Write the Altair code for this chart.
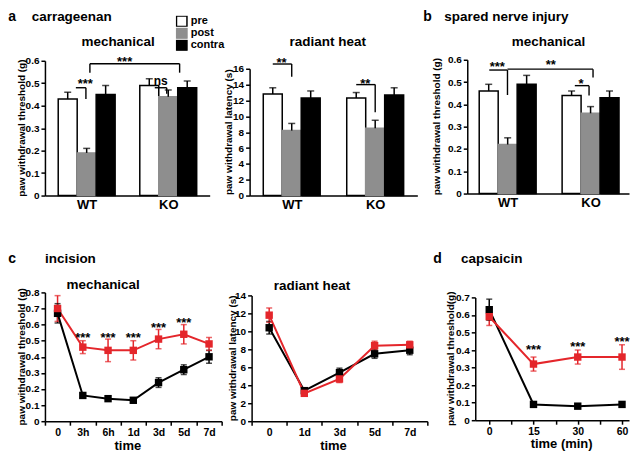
import altair as alt
import pandas as pd

FONT = "Liberation Sans"
GREY = "#8e8e8e"
RED = "#e4262b"

# ---------------- data ----------------
groups = ["WT", "KO"]
conds = ["pre", "post", "contra"]
cond_fill = ["white", GREY, "black"]
cond_stroke = ["black", GREY, "black"]

# a: carrageenan, mechanical (g)   order: WT pre/post/contra, KO pre/post/contra
a_mech_mean = [0.43, 0.19, 0.45, 0.49, 0.44, 0.48]
a_mech_sem = [0.03, 0.02, 0.04, 0.03, 0.03, 0.03]
# a: carrageenan, radiant heat (s)
a_heat_mean = [12.8, 8.2, 12.3, 12.3, 8.5, 12.7]
a_heat_sem = [0.8, 0.9, 0.9, 0.7, 1.0, 0.9]
# b: spared nerve injury, mechanical (g)
b_mech_mean = [0.46, 0.22, 0.49, 0.44, 0.36, 0.43]
b_mech_sem = [0.03, 0.03, 0.04, 0.02, 0.03, 0.03]

# significance brackets (bar units on x, data units on y)
a_mech_seg_x1 = [1.63, 2.16, 2.37, 2.37, 7.10, 5.79, 6.42]
a_mech_seg_x2 = [2.16, 2.16, 7.10, 2.37, 7.10, 6.42, 6.42]
a_mech_seg_y1 = [0.48, 0.48, 0.587, 0.587, 0.587, 0.48, 0.48]
a_mech_seg_y2 = [0.48, 0.43, 0.587, 0.547, 0.547, 0.48, 0.453]
a_mech_sig_t = ["***", "***", "ns"]
a_mech_sig_x = [2.13, 4.2, 6.1]
a_mech_sig_y = [0.511, 0.607, 0.511]

a_heat_seg_x1 = [1.22, 2.22, 5.62, 6.62]
a_heat_seg_x2 = [2.22, 2.22, 6.62, 6.62]
a_heat_seg_y1 = [16.6, 16.6, 14.0, 14.0]
a_heat_seg_y2 = [16.6, 15.0, 14.0, 10.5]
a_heat_sig_t = ["**", "**"]
a_heat_sig_x = [1.68, 6.1]
a_heat_sig_y = [17.1, 14.5]

b_mech_seg_x1 = [1.16, 2.12, 2.12, 6.63, 5.67, 6.42]
b_mech_seg_x2 = [2.12, 2.12, 6.63, 6.63, 6.42, 6.42]
b_mech_seg_y1 = [0.554, 0.554, 0.558, 0.558, 0.484, 0.484]
b_mech_seg_y2 = [0.554, 0.442, 0.558, 0.521, 0.484, 0.44]
b_mech_sig_t = ["***", "**", "*"]
b_mech_sig_x = [1.58, 4.4, 6.0]
b_mech_sig_y = [0.582, 0.588, 0.506]

# c: incision, mechanical
c_times = ["0", "3h", "6h", "1d", "3d", "5d", "7d"]
c_mech_wt = [0.67, 0.16, 0.14, 0.13, 0.24, 0.32, 0.40]
c_mech_wt_sem = [0.06, 0.015, 0.015, 0.015, 0.03, 0.03, 0.04]
c_mech_ko = [0.70, 0.46, 0.44, 0.44, 0.51, 0.54, 0.48]
c_mech_ko_sem = [0.08, 0.04, 0.07, 0.06, 0.06, 0.06, 0.04]
c_mech_star_t = ["3h", "6h", "1d", "3d", "5d"]
c_mech_star_y = [0.535, 0.535, 0.535, 0.60, 0.628]

# c: incision, radiant heat
c_heat_times = ["0", "1d", "3d", "5d", "7d"]
c_heat_wt = [10.4, 3.4, 5.4, 7.5, 7.9]
c_heat_wt_sem = [0.7, 0.3, 0.5, 0.5, 0.5]
c_heat_ko = [11.8, 3.1, 4.7, 8.4, 8.5]
c_heat_ko_sem = [0.8, 0.3, 0.4, 0.5, 0.4]

# d: capsaicin
d_times = ["0", "15", "30", "60"]
d_wt = [0.63, 0.09, 0.08, 0.09]
d_wt_sem = [0.06, 0.01, 0.01, 0.01]
d_ko = [0.59, 0.32, 0.36, 0.36]
d_ko_sem = [0.05, 0.04, 0.04, 0.07]
d_star_i = [1, 2, 3]
d_star_y = [0.42, 0.433, 0.461]

geno_scale = alt.Scale(domain=groups, range=["black", RED])


# ---------------- helpers ----------------
def txt(s, x, y, size=13.5, align="left", angle=0):
    kw = dict(align=align, baseline="middle", font=FONT, fontWeight="bold",
              fontSize=size, color="black")
    if angle:
        kw["angle"] = angle
    return alt.Chart(pd.DataFrame({"t": [s]})).mark_text(**kw).encode(
        x=alt.value(x), y=alt.value(y), text="t:N")


def yaxis(count, decimals, offset=0):
    kw = dict(title=None, tickCount=count, tickSize=4, labelPadding=2,
              labelOverlap=False, labelFlush=False, labelBound=False)
    if decimals:
        kw["format"] = ".1f"
        kw["labelExpr"] = "datum.value == 0 ? '0' : datum.label"
    else:
        kw["format"] = "d"
    if offset:
        kw["offset"] = offset
    return alt.Axis(**kw)


def bar_panel(means, sems, start, gap, width, height, xr, yr, ydom, ycount, decimals,
              seg, sig, headers, legend=None):
    unit = 19.0
    rows = []
    for gi, g in enumerate(groups):
        for ci, c in enumerate(conds):
            i = gi * 3 + ci
            rows.append({"group": g, "cond": c, "pos": start + gi * gap + ci,
                         "mean": means[i], "hi": means[i] + sems[i]})
    df = pd.DataFrame(rows)
    xs = alt.Scale(domain=[0, (xr[1] - xr[0]) / unit], range=xr, nice=False,
                   zero=False, padding=0)
    ys = alt.Scale(domain=ydom, range=yr, nice=False, padding=0)
    mid = start + gap / 2 + 1
    xax = alt.Axis(title=None, values=[start + 1, start + gap + 1],
                   labelExpr=f"datum.value < {mid} ? 'WT' : 'KO'",
                   ticks=False, tickSize=0, labelFontSize=13, labelPadding=3,
                   labelFlush=False, labelOverlap=False)
    yax = yaxis(ycount, decimals)
    bars = alt.Chart(df).mark_bar(size=19, strokeWidth=1.5).encode(
        x=alt.X("pos:Q", scale=xs, axis=xax),
        y=alt.Y("mean:Q", scale=ys, axis=yax),
        fill=alt.Fill("cond:N", scale=alt.Scale(domain=conds, range=cond_fill),
                      legend=legend),
        stroke=alt.Stroke("cond:N", scale=alt.Scale(domain=conds, range=cond_stroke),
                          legend=None),
    )
    err = alt.Chart(df).mark_rule(color="black", strokeWidth=1.5).encode(
        x=alt.X("pos:Q", scale=xs, axis=xax),
        y=alt.Y("mean:Q", scale=ys, axis=yax), y2="hi:Q")
    caps = alt.Chart(df).mark_tick(color="black", thickness=1.5, size=7,
                                   orient="horizontal").encode(
        x=alt.X("pos:Q", scale=xs, axis=xax),
        y=alt.Y("hi:Q", scale=ys, axis=yax))
    sdf = pd.DataFrame({"x1": seg[0], "x2": seg[1], "y1": seg[2], "y2": seg[3]})
    br = alt.Chart(sdf).mark_rule(color="black", strokeWidth=1.4).encode(
        x=alt.X("x1:Q", scale=xs, axis=xax), x2="x2:Q",
        y=alt.Y("y1:Q", scale=ys, axis=yax), y2="y2:Q")
    tdf = pd.DataFrame({"t": sig[0], "x": sig[1], "y": sig[2]})
    stars = alt.Chart(tdf[tdf.t != "ns"]).mark_text(
        font=FONT, fontWeight="bold", fontSize=13, baseline="middle", dy=3,
        color="black").encode(
        x=alt.X("x:Q", scale=xs, axis=xax), y=alt.Y("y:Q", scale=ys, axis=yax),
        text="t:N")
    layers = [bars, err, caps, br, stars]
    if (tdf.t == "ns").any():
        ns = alt.Chart(tdf[tdf.t == "ns"]).mark_text(
            font=FONT, fontWeight="bold", fontSize=12, baseline="middle",
            color="black").encode(
            x=alt.X("x:Q", scale=xs, axis=xax), y=alt.Y("y:Q", scale=ys, axis=yax),
            text="t:N")
        layers.append(ns)
    return alt.layer(*layers, *headers).properties(width=width, height=height)


def line_panel(xvals, xtype, xs, xax, wt, wt_e, ko, ko_e, ys, yax, star_x, star_y,
               width, height, headers, legend=None):
    rows = []
    for g, m, e in (("WT", wt, wt_e), ("KO", ko, ko_e)):
        for xv, mv, ev in zip(xvals, m, e):
            rows.append({"x": xv, "geno": g, "mean": mv, "lo": mv - ev, "hi": mv + ev})
    df = pd.DataFrame(rows)
    xf = f"x:{xtype}"
    err = alt.Chart(df).mark_rule(strokeWidth=1.5).encode(
        x=alt.X(xf, scale=xs, axis=xax),
        y=alt.Y("lo:Q", scale=ys, axis=yax), y2="hi:Q",
        color=alt.Color("geno:N", scale=geno_scale, legend=None))
    caps = alt.Chart(df).transform_fold(["lo", "hi"], as_=["k", "v"]).mark_tick(
        thickness=1.5, size=6, orient="horizontal").encode(
        x=alt.X(xf, scale=xs, axis=xax),
        y=alt.Y("v:Q", scale=ys, axis=yax),
        color=alt.Color("geno:N", scale=geno_scale, legend=None))
    line = alt.Chart(df).mark_line(strokeWidth=2).encode(
        x=alt.X(xf, scale=xs, axis=xax),
        y=alt.Y("mean:Q", scale=ys, axis=yax),
        color=alt.Color("geno:N", scale=geno_scale, legend=None))
    pts = alt.Chart(df).mark_point(shape="square", filled=True, size=55, opacity=1).encode(
        x=alt.X(xf, scale=xs, axis=xax),
        y=alt.Y("mean:Q", scale=ys, axis=yax),
        fill=alt.Fill("geno:N", scale=geno_scale, legend=legend))
    layers = [err, caps, line, pts]
    if star_x:
        sdf = pd.DataFrame({"x": star_x, "y": star_y, "t": ["***"] * len(star_x)})
        stars = alt.Chart(sdf).mark_text(font=FONT, fontWeight="bold", fontSize=13,
                                         baseline="middle", dy=3, color="black").encode(
            x=alt.X(xf, scale=xs, axis=xax), y=alt.Y("y:Q", scale=ys, axis=yax),
            text="t:N")
        layers.append(stars)
    return alt.layer(*layers, *headers).properties(width=width, height=height)


# ---------------- panels ----------------
leg_a = alt.Legend(orient="none", legendX=131, legendY=-45, title=None,
                   symbolType="square", symbolSize=110, symbolStrokeColor="black",
                   symbolStrokeWidth=1.5, labelFont=FONT, labelFontSize=11,
                   labelFontWeight="bold", labelColor="black", labelOffset=3,
                   rowPadding=0, clipHeight=11, padding=0)

A1 = bar_panel(a_mech_mean, a_mech_sem, 1.2, 4.3, 177, 135, [0, 165], [135, 0],
               [0, 0.6], 6, True,
               (a_mech_seg_x1, a_mech_seg_x2, a_mech_seg_y1, a_mech_seg_y2),
               (a_mech_sig_t, a_mech_sig_x, a_mech_sig_y),
               [txt("a", -36.7, -43.5, 14), txt("carrageenan", -13.3, -43.5),
                txt("mechanical", 73.3, -19, align="center"),
                txt("paw withdrawal threshold (g)", -23, 67.5, 10, "center", 270)],
               legend=leg_a)

A2 = bar_panel(a_heat_mean, a_heat_sem, 1.22, 4.4, 190, 135, [0, 168], [135, 8],
               [0, 16], 8, False,
               (a_heat_seg_x1, a_heat_seg_x2, a_heat_seg_y1, a_heat_seg_y2),
               (a_heat_sig_t, a_heat_sig_x, a_heat_sig_y),
               [txt("radiant heat", 78.3, -19, align="center"),
                txt("paw withdrawal latency (s)", -21, 71.5, 10, "center", 270)])

B = bar_panel(b_mech_mean, b_mech_sem, 1.13, 4.37, 162, 133, [0, 162], [133, -1],
              [0, 0.6], 6, True,
              (b_mech_seg_x1, b_mech_seg_x2, b_mech_seg_y1, b_mech_seg_y2),
              (b_mech_sig_t, b_mech_sig_x, b_mech_sig_y),
              [txt("b", -44, -43.5, 14), txt("spared nerve injury", -23, -43.5),
               txt("mechanical", 81.3, -19, align="center"),
               txt("paw withdrawal threshold (g)", -30, 66, 10, "center", 270)])

leg_c = alt.Legend(orient="none", legendX=140, legendY=-15.5, title=None,
                   symbolType="square", symbolSize=140, labelFont=FONT,
                   labelFontSize=11.5, labelFontWeight="bold", labelColor="black",
                   labelOffset=3, rowPadding=5, padding=0)

C1 = line_panel(
    c_times, "O",
    alt.Scale(type="band", domain=c_times, range=[0, 177], paddingInner=0, paddingOuter=0),
    alt.Axis(title=None, tickBand="extent", tickSize=4, labelAngle=0, labelFontSize=10.5,
             labelPadding=2),
    c_mech_wt, c_mech_wt_sem, c_mech_ko, c_mech_ko_sem,
    alt.Scale(domain=[0, 0.8], range=[129, 0], nice=False, padding=0),
    yaxis(8, True),
    c_mech_star_t, c_mech_star_y, 177, 129,
    [txt("c", -36.7, -33.5, 14), txt("incision", 0, -33.5),
     txt("mechanical", 58.3, -7, align="center"),
     txt("paw withdrawal threshold (g)", -23.3, 64.5, 10, "center", 270),
     txt("time", 83, 153.5, 13, "center")],
    legend=leg_c)

C2 = line_panel(
    c_heat_times, "O",
    alt.Scale(type="band", domain=c_heat_times, range=[2, 178], paddingInner=0, paddingOuter=0),
    alt.Axis(title=None, tickBand="extent", tickSize=4, labelAngle=0, labelFontSize=10.5,
             labelPadding=2),
    c_heat_wt, c_heat_wt_sem, c_heat_ko, c_heat_ko_sem,
    alt.Scale(domain=[0, 14], range=[129, 3], nice=False, padding=0),
    yaxis(7, False, offset=-2),
    [], [], 190, 129,
    [txt("radiant heat", 62.5, -6.5, align="center"),
     txt("paw withdrawal latency (s)", -17, 66, 10, "center", 270),
     txt("time", 84, 153.5, 13, "center")])

d_label_arr = "[" + ",".join(f"'{t}'" for t in d_times) + "]"
D = line_panel(
    list(range(len(d_times))), "Q",
    alt.Scale(domain=[-0.316, 3.158], range=[8, 162], nice=False, zero=False, padding=0),
    alt.Axis(title=None, values=[0, 0.5, 1, 1.5, 2, 2.5, 3], tickSize=4,
             labelExpr=f"datum.value % 1 == 0 ? {d_label_arr}[datum.value] : ''",
             labelFlush=False, labelOverlap=False, labelFontSize=10.5, labelPadding=2),
    d_wt, d_wt_sem, d_ko, d_ko_sem,
    alt.Scale(domain=[0, 0.7], range=[128, 5], nice=False, padding=0),
    yaxis(7, True, offset=-8),
    d_star_i, d_star_y, 162, 128,
    [txt("d", -34, -33.5, 14), txt("capsaicin", -6.3, -33.5),
     txt("paw withdrawal threshold(g)", -16, 66.5, 10, "center", 270),
     txt("time (min)", 94.5, 152, 13, "center")])

chart = alt.concat(
    A1, A2, B, C1, C2, D, columns=3,
    spacing={"row": 97, "column": 28}, bounds="flush", align="each"
).resolve_scale(
    fill="independent", stroke="independent", color="independent"
).properties(
    padding={"left": 0, "top": 1.5, "right": 4, "bottom": 4}, background="white"
).configure_view(stroke=None).configure_axis(
    domainColor="black", domainWidth=1.5, tickColor="black", tickWidth=1.5,
    grid=False, labelFont=FONT, labelFontWeight="bold", labelColor="black",
    labelFontSize=10, titleFont=FONT, titleFontWeight="bold", titleColor="black",
    titleFontSize=10, labelOverlap=False
)

chart.save("out.html", embed_options={"renderer": "svg", "actions": False})
